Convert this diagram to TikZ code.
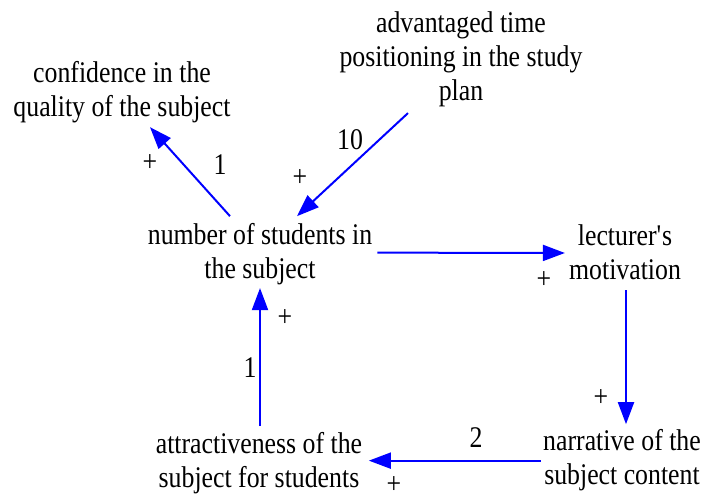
\documentclass[tikz,border=0pt]{standalone}
\usepackage{fontspec}
\setmainfont[FakeStretch=0.86]{Liberation Serif}
\usetikzlibrary{calc,arrows.meta}
\begin{document}
\begin{tikzpicture}[x=1pt,y=-1pt,
  txt/.style={font=\fontsize{30}{34}\selectfont, align=center, inner sep=0pt, anchor=base},
  lbl/.style={font=\fontsize{30}{34}\selectfont, inner sep=0pt, anchor=center},
  arr/.style={draw=blue, line width=2pt, -{Triangle[length=22pt,width=16pt]}}]
\useasboundingbox (0,0) rectangle (707,495);
\node[txt] (conf) at (122,117) {confidence in the\\quality of the subject};
\node[txt] (adv) at (461,100) {advantaged time\\positioning in the study\\plan};
\node[txt] (num) at (260,278) {number of students in\\the subject};
\node[txt] (lec) at (625,279) {lecturer\textquotesingle s\\motivation};
\node[txt] (narr) at (622,484) {narrative of the\\subject content};
\node[txt] (attr) at (259,487) {attractiveness of the\\subject for students};
\draw[arr] ($(num.north)+(-30,-6.5)$) -- ($(conf.south)+(28,3.5)$);
\draw[arr] ($(adv.south)+(-53,6.5)$) -- ($(num.north)+(37,-6.5)$);
\draw[arr] ($(num.east)+(5,-1)$) -- ($(lec.west)+(-4,1.25)$);
\draw[arr] ($(lec.south)+(1,11)$) -- ($(narr.north)+(4,-4.5)$);
\draw[arr] ($(narr.west)+(-2.5,1)$) -- ($(attr.east)+(6.5,-2)$);
\draw[arr] ($(attr.north)+(1,-5.5)$) -- ($(num.south)+(0,3.5)$);
\node[lbl] (p1) at (150,163) {+};
\node[lbl] (n1) at (220,165) {1};
\node[lbl] (n10) at (350,140) {10};
\node[lbl] (p2) at (300,178) {+};
\node[lbl] (p3) at (544,280) {+};
\node[lbl] (p4) at (601,398) {+};
\node[lbl] (n2) at (476,438) {2};
\node[lbl] (p5) at (394,485) {+};
\node[lbl] (p6) at (285,318) {+};
\node[lbl] (n3) at (250,368) {1};
\end{tikzpicture}
\end{document}
